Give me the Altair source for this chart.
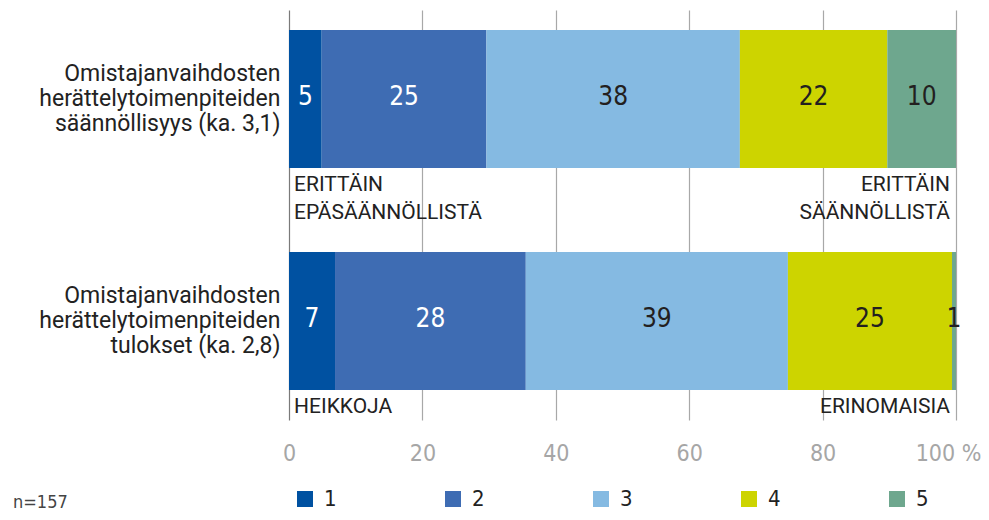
import altair as alt
import pandas as pd

# ---- data ----
categories = [
    "Omistajanvaihdosten|herättelytoimenpiteiden|säännöllisyys (ka. 3,1)",
    "Omistajanvaihdosten|herättelytoimenpiteiden|tulokset (ka. 2,8)",
]
levels = ["1", "2", "3", "4", "5"]
# bar lengths (%)
shares_regularity = [4.9, 24.7, 38.0, 22.1, 10.3]
shares_results = [6.9, 28.6, 39.3, 24.6, 0.6]
# printed labels
labels_regularity = [5, 25, 38, 22, 10]
labels_results = [7, 28, 39, 25, 1]
colors = ["#0051A1", "#3E6CB3", "#85BAE2", "#CDD400", "#6EA78E"]

ann_left = ["ERITTÄIN\nEPÄSÄÄNNÖLLISTÄ", "HEIKKOJA"]
ann_right = ["ERITTÄIN\nSÄÄNNÖLLISTÄ", "ERINOMAISIA"]
x_ticks = [0, 20, 40, 60, 80, 100]
note = "n=157"

rows = []
for cat, vals, labs in zip(categories, [shares_regularity, shares_results],
                           [labels_regularity, labels_results]):
    for i, (lv, v, lb) in enumerate(zip(levels, vals, labs)):
        rows.append({"cat": cat, "level": lv, "order": i, "value": v, "lab": lb})
df = pd.DataFrame(rows)

ann_df_l = pd.DataFrame({"cat": categories, "txt": ann_left, "pos": [0, 0]})
ann_df_r = pd.DataFrame({"cat": categories, "txt": ann_right, "pos": [100, 100]})
note_df = pd.DataFrame({"t": [note]})

COND = "'DejaVu Sans Condensed', 'Liberation Sans Narrow', 'Roboto Condensed', sans-serif"
SANS = "Roboto, 'Noto Sans', sans-serif"

yscale = alt.Scale(domain=categories, paddingInner=0.378, paddingOuter=0.1126, align=0.4)
xscale = alt.Scale(domain=[0, 100], nice=False)

base = alt.Chart(df).transform_stack(
    stack="value", as_=["x0", "x1"], groupby=["cat"], sort=[alt.SortField("order")]
).transform_calculate(mid="(datum.x0 + datum.x1) / 2")

bars = base.mark_bar().encode(
    x=alt.X("x0:Q", scale=xscale, axis=alt.Axis(
        values=x_ticks, grid=True,
        gridColor={"condition": {"test": "datum.value == 0", "value": "#7a7a7a"}, "value": "#a8a8a8"},
        gridWidth=1.2,
        domain=False, ticks=False, tickSize=0, labelFlush=False,
        labelFont=COND, labelFontSize=23, labelColor="#a6a6a6", labelPadding=22,
        labelExpr="datum.value == 100 ? '100 %' : datum.label",
        labelOffset={"condition": {"test": "datum.value == 100", "value": -8}, "value": 0},
        title=None)),
    x2="x1:Q",
    y=alt.Y("cat:N", scale=yscale, sort=categories, axis=alt.Axis(
        title=None, domain=False, ticks=False, grid=False,
        labelExpr="split(datum.label, '|')",
        labelFont=SANS, labelFontSize=23, labelColor="#222222",
        labelLineHeight=25, labelPadding=9, labelAlign="right", labelBaseline="middle",
        labelOffset=-25, labelLimit=400)),
    color=alt.Color("level:N", scale=alt.Scale(domain=levels, range=colors), legend=alt.Legend(
        title=None, orient="none", legendX=5, legendY=478, direction="horizontal",
        columns=5, gridAlign="all", columnPadding=105,
        symbolType="square", symbolSize=256, symbolStrokeWidth=0,
        labelFont=COND, labelFontSize=22, labelColor="#222222", labelOffset=8, padding=0)),
)

labels = base.mark_text(font=COND, fontSize=26, baseline="middle", dy=-2).encode(
    x=alt.X("mid:Q", scale=xscale),
    y=alt.Y("cat:N", scale=yscale, sort=categories),
    text="lab:Q",
    color=alt.condition("datum.level == '1' || datum.level == '2'",
                        alt.value("#ffffff"), alt.value("#231f20")),
)

annL = alt.Chart(ann_df_l).mark_text(
    font=SANS, fontSize=21, align="left", baseline="alphabetic",
    dx=5, dy=92, lineBreak="\n", lineHeight=28, color="#222222"
).encode(
    x=alt.X("pos:Q", scale=xscale),
    y=alt.Y("cat:N", scale=yscale, sort=categories),
    text="txt:N",
)

annR = alt.Chart(ann_df_r).mark_text(
    font=SANS, fontSize=21, align="right", baseline="alphabetic",
    dx=-6, dy=92, lineBreak="\n", lineHeight=28, color="#222222"
).encode(
    x=alt.X("pos:Q", scale=xscale),
    y=alt.Y("cat:N", scale=yscale, sort=categories),
    text="txt:N",
)

note_txt = alt.Chart(note_df).mark_text(
    font=COND, fontSize=18, align="left", baseline="middle", color="#444444"
).encode(text="t:N", x=alt.value(-276), y=alt.value(493))

chart = alt.layer(bars, labels, annL, annR, note_txt).properties(
    width=667, height=410,
    autosize=alt.AutoSizeParams(type="none"),
    padding={"left": 281, "top": 2, "right": 25, "bottom": 92},
).configure_view(stroke=None)

chart.save("out.html", embed_options={"renderer": "svg", "actions": False})
